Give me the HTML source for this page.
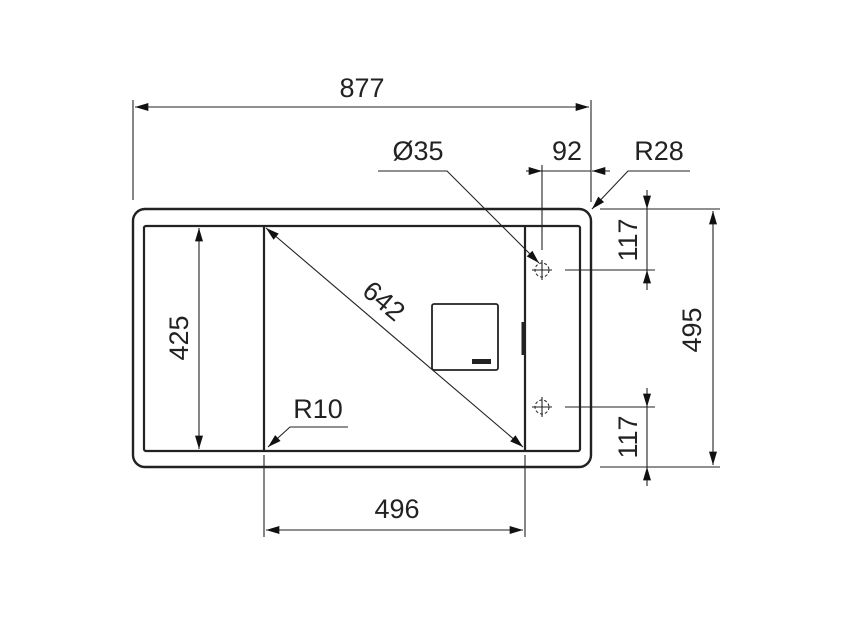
<!DOCTYPE html><html><head><style>body{margin:0;background:#fff}svg{display:block}text{font-family:"Liberation Sans",sans-serif;font-size:27px;fill:#222}</style></head><body>
<svg width="855" height="630" viewBox="0 0 855 630" xmlns="http://www.w3.org/2000/svg">
<defs><marker id="a" viewBox="0 0 10 6" refX="10" refY="3" markerWidth="18" markerHeight="8" markerUnits="userSpaceOnUse" orient="auto-start-reverse"><path d="M0,0L10,3L0,6z" fill="#111"/></marker></defs>
<g fill="none" stroke="#222">
<rect x="133" y="209" width="458" height="258" rx="12" stroke-width="2.4"/>
<rect x="144" y="226" width="436" height="225" rx="2" stroke-width="2.2"/>
<line x1="264" y1="227" x2="264" y2="450" stroke-width="2.2"/>
<line x1="525" y1="227" x2="525" y2="450" stroke-width="2.2"/>
<rect x="432" y="304" width="66" height="66" rx="2" stroke-width="1.8"/>
<line x1="523" y1="322" x2="523" y2="355" stroke-width="3"/>
<g stroke-width="1" stroke-dasharray="3,2"><circle cx="542" cy="270" r="7"/><circle cx="542" cy="407" r="7"/></g>
<g stroke-width="1.1">
<line x1="532" y1="270" x2="552" y2="270"/><line x1="542" y1="260" x2="542" y2="280"/>
<line x1="532" y1="407" x2="552" y2="407"/><line x1="542" y1="397" x2="542" y2="417"/>
<line x1="133" y1="100" x2="133" y2="200"/><line x1="591" y1="100" x2="591" y2="202"/>
<line x1="135" y1="107" x2="589" y2="107" marker-start="url(#a)" marker-end="url(#a)"/>
<line x1="542" y1="165" x2="542" y2="250"/>
<line x1="526" y1="171" x2="542" y2="171" marker-end="url(#a)"/>
<line x1="542" y1="171" x2="591" y2="171"/>
<line x1="610" y1="171" x2="592" y2="171" marker-end="url(#a)"/>
<polyline points="690,171 628,171 592,209" marker-end="url(#a)"/>
<polyline points="378,171 447,171 539,263" marker-end="url(#a)"/>
<line x1="600" y1="209" x2="720" y2="209"/><line x1="565" y1="270" x2="655" y2="270"/>
<line x1="565" y1="407" x2="655" y2="407"/><line x1="600" y1="467" x2="720" y2="467"/>
<line x1="647" y1="190" x2="647" y2="209" marker-end="url(#a)"/>
<line x1="647" y1="209" x2="647" y2="270"/>
<line x1="647" y1="290" x2="647" y2="270" marker-end="url(#a)"/>
<line x1="647" y1="388" x2="647" y2="407" marker-end="url(#a)"/>
<line x1="647" y1="407" x2="647" y2="467"/>
<line x1="647" y1="486" x2="647" y2="467" marker-end="url(#a)"/>
<line x1="713" y1="211" x2="713" y2="465" marker-start="url(#a)" marker-end="url(#a)"/>
<line x1="199" y1="228" x2="199" y2="449" marker-start="url(#a)" marker-end="url(#a)"/>
<line x1="266" y1="228" x2="523" y2="447" marker-start="url(#a)" marker-end="url(#a)"/>
<polyline points="348,427 290,427 268,447" marker-end="url(#a)"/>
<line x1="264" y1="455" x2="264" y2="537"/><line x1="525" y1="455" x2="525" y2="537"/>
<line x1="266" y1="530" x2="523" y2="530" marker-start="url(#a)" marker-end="url(#a)"/>
</g></g>
<rect x="472" y="359" width="19" height="5" fill="#222"/>
<text x="362" y="97" text-anchor="middle">877</text>
<text x="418" y="160" text-anchor="middle">Ø35</text>
<text x="567" y="160" text-anchor="middle">92</text>
<text x="659" y="160" text-anchor="middle">R28</text>
<text x="318" y="418" text-anchor="middle">R10</text>
<text x="397" y="518" text-anchor="middle">496</text>
<text transform="translate(188,338) rotate(-90)" text-anchor="middle">425</text>
<text transform="translate(637,240) rotate(-90)" text-anchor="middle">117</text>
<text transform="translate(637,437) rotate(-90)" text-anchor="middle">117</text>
<text transform="translate(701,330) rotate(-90)" text-anchor="middle">495</text>
<text transform="translate(378,308) rotate(40)" text-anchor="middle">642</text>
</svg></body></html>
